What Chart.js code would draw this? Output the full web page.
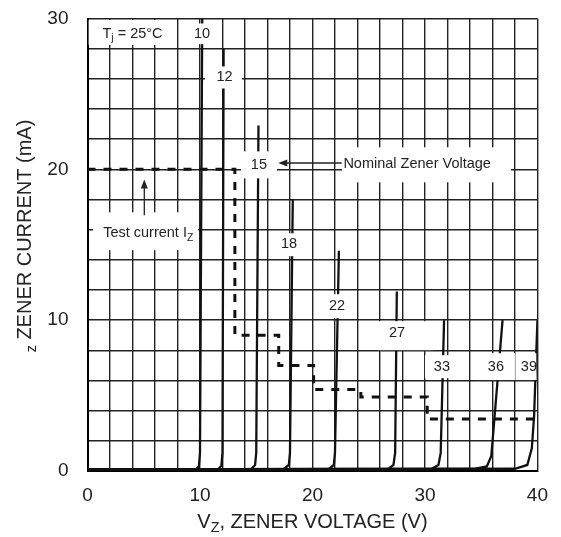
<!DOCTYPE html>
<html>
<head>
<meta charset="utf-8">
<script src="https://cdn.jsdelivr.net/npm/chart.js@4.4.1/dist/chart.umd.min.js"></script>
<style>
  body { margin: 0; background: #fff; }
  canvas { display: block; }
</style>
</head>
<body>
<canvas id="chart" width="561" height="537"></canvas>
<script>
// zener curves, [volts, mA]
var z10 = [[0, 0.1], [9.6, 0.1], [9.9, 0.3], [10.0, 1.2], [10.2, 30]];
var z12 = [[0, 0.1], [11.6, 0.1], [11.9, 0.35], [12.0, 1.2], [12.1, 28]];
var z15 = [[0, 0.1], [14.5, 0.1], [14.9, 0.4], [15.0, 1.2], [15.2, 22.9]];
var z18 = [[0, 0.1], [17.4, 0.1], [17.9, 0.4], [18.0, 1.2], [18.25, 18]];
var z22 = [[0, 0.1], [21.4, 0.1], [21.9, 0.4], [22.0, 1.2], [22.35, 14.6]];
var z27 = [[0, 0.1], [26.7, 0.1], [27.2, 0.4], [27.35, 1.2], [27.5, 11.9]];
var z33 = [[0, 0.1], [30.5, 0.1], [31.2, 0.4], [31.4, 1.2], [31.7, 10]];
var z36 = [[0, 0.1], [34.5, 0.15], [35.5, 0.3], [35.9, 1.0], [36.9, 10]];
var z39 = [[0, 0.1], [38.0, 0.15], [39.1, 0.4], [39.5, 1.5], [39.7, 3.6], [40, 10]];
var curves = [z10, z12, z15, z18, z22, z27, z33, z36, z39];

// test current staircase (dashed)
var testV = [0, 13.1, 13.1, 17.0, 17.0, 20.1, 20.1, 24.3, 24.3, 30.2, 30.2, 40];
var testI = [20, 20, 9, 9, 7, 7, 5.4, 5.4, 4.9, 4.9, 3.45, 3.45];

var xLabels = [0, 10, 20, 30, 40];
var yLabels = [0, 10, 20, 30];

var FONT = 'Liberation Sans, Arial, Helvetica, sans-serif';
var INK = '#222';

// labels in white boxes: text segments, text anchor and box [x0, x1, y0, y1] in chart units
var notes = [
  { text: [['T'], ['j', 'sub'], [' = 25°C']], x: 4.0, y: 29.0, box: [0.1, 7.85, 29.9, 28.25] },
  { text: [['10']], x: 10.18, y: 28.97, box: [9.2, 11.2, 29.67, 28.3] },
  { text: [['12']], x: 12.18, y: 26.09, box: [10.44, 13.73, 26.82, 25.36] },
  { text: [['15']], x: 15.24, y: 20.3, box: [13.64, 16.84, 21.19, 19.4] },
  { text: [['Nominal Zener Voltage']], x: 22.75, y: 20.33, box: [22.62, 37.64, 21.46, 19.14], align: 'left' },
  { text: [['Test current I'], ['Z', 'sub']], x: 5.4, y: 15.78, box: [0.49, 9.82, 17.15, 14.64] },
  { text: [['18']], x: 17.91, y: 15.08, box: [16.84, 18.89, 15.76, 14.24] },
  { text: [['22']], x: 22.18, y: 10.93, box: [20.49, 23.96, 11.72, 10.13] },
  { text: [['27']], x: 27.51, y: 9.14, box: [25.82, 30.71, 9.93, 8.01] },
  { text: [['33']], x: 31.51, y: 6.89, box: [30.0, 32.67, 7.68, 6.16] },
  { text: [['36']], x: 36.31, y: 6.89, box: [34.71, 38.0, 7.81, 6.03] },
  { text: [['39']], x: 39.24, y: 6.89, box: [38.09, 39.9, 7.81, 6.03] }
];

// arrows [fromV, fromI, toV, toI]
var arrows = [
  [22.6, 20.42, 16.96, 20.42],
  [5.05, 16.95, 5.05, 19.32]
];

function drawRich(ctx, segs, x, y, size, align) {
  var total = 0;
  segs.forEach(function(s) {
    ctx.font = (s[1] ? size * 0.72 : size) + 'px ' + FONT;
    total += ctx.measureText(s[0]).width;
  });
  var cx = align === 'left' ? x : x - total / 2;
  ctx.textAlign = 'left';
  ctx.textBaseline = 'middle';
  segs.forEach(function(s) {
    ctx.font = (s[1] ? size * 0.72 : size) + 'px ' + FONT;
    ctx.fillText(s[0], cx, s[1] ? y + size * 0.32 : y);
    cx += ctx.measureText(s[0]).width;
  });
}

var overlay = {
  id: 'overlay',
  afterDatasetsDraw: function(chart) {
    var ctx = chart.ctx, xs = chart.scales.x, ys = chart.scales.y;
    var area = chart.chartArea;
    ctx.save();
    notes.forEach(function(n) {
      var l = xs.getPixelForValue(n.box[0]), r = xs.getPixelForValue(n.box[1]);
      var t = ys.getPixelForValue(n.box[2]), b = ys.getPixelForValue(n.box[3]);
      ctx.fillStyle = '#fff';
      ctx.fillRect(l, t, r - l, b - t);
      ctx.fillStyle = INK;
      drawRich(ctx, n.text, xs.getPixelForValue(n.x), ys.getPixelForValue(n.y), 14.5, n.align);
    });

    ctx.strokeStyle = INK;
    ctx.fillStyle = INK;
    ctx.lineWidth = 1.3;
    arrows.forEach(function(a) {
      var x1 = xs.getPixelForValue(a[0]), y1 = ys.getPixelForValue(a[1]);
      var x2 = xs.getPixelForValue(a[2]), y2 = ys.getPixelForValue(a[3]);
      var ang = Math.atan2(y2 - y1, x2 - x1);
      ctx.beginPath();
      ctx.moveTo(x1, y1);
      ctx.lineTo(x2 - 6 * Math.cos(ang), y2 - 6 * Math.sin(ang));
      ctx.stroke();
      ctx.beginPath();
      ctx.moveTo(x2, y2);
      ctx.lineTo(x2 - 9 * Math.cos(ang) + 3.5 * Math.sin(ang), y2 - 9 * Math.sin(ang) - 3.5 * Math.cos(ang));
      ctx.lineTo(x2 - 9 * Math.cos(ang) - 3.5 * Math.sin(ang), y2 - 9 * Math.sin(ang) + 3.5 * Math.cos(ang));
      ctx.closePath();
      ctx.fill();
    });

    // axis titles
    ctx.fillStyle = INK;
    drawRich(ctx, [['V'], ['Z', 'sub'], [', ZENER VOLTAGE (V)']], (area.left + area.right) / 2, 522, 20, 'center');
    ctx.translate(area.left - 62, 236);
    ctx.rotate(-Math.PI / 2);
    drawRich(ctx, [['z', 'sub'], [' ZENER CURRENT (mA)']], 0, 0, 20, 'center');
    ctx.restore();
  }
};

var datasets = curves.map(function(c) {
  return {
    data: c.map(function(p) { return { x: p[0], y: p[1] }; }),
    borderColor: '#111',
    borderWidth: 2.3,
    pointRadius: 0,
    showLine: true,
    fill: false
  };
});
datasets.push({
  data: testV.map(function(v, i) { return { x: v, y: testI[i] }; }),
  borderColor: '#111',
  borderWidth: 3,
  borderDash: [8, 8],
  borderCapStyle: 'butt',
  pointRadius: 0,
  showLine: true,
  fill: false
});

var ctx = document.getElementById('chart').getContext('2d');
new Chart(ctx, {
  type: 'scatter',
  data: { datasets: datasets },
  options: {
    responsive: false,
    animation: false,
    devicePixelRatio: 1,
    layout: { padding: { left: 0, right: 23, top: 18.5, bottom: 0 } },
    plugins: { legend: { display: false }, tooltip: { enabled: false } },
    scales: {
      x: {
        type: 'linear',
        min: 0,
        max: 40,
        afterFit: function(s) { s.height = 66; },
        grid: { color: INK, lineWidth: 1.4, drawTicks: false },
        border: { color: '#000', width: 2 },
        ticks: {
          stepSize: 2,
          autoSkip: false,
          maxRotation: 0,
          padding: 13,
          color: INK,
          font: { size: 19, family: FONT },
          callback: function(v) { return xLabels.indexOf(v) >= 0 ? String(v) : ''; }
        }
      },
      y: {
        type: 'linear',
        min: 0,
        max: 30,
        afterFit: function(s) { s.width = 87.5; s.paddingTop = 0; s.paddingBottom = 0; },
        grid: { color: INK, lineWidth: 1.4, drawTicks: false },
        border: { color: '#000', width: 2 },
        ticks: {
          stepSize: 2,
          autoSkip: false,
          padding: 19,
          color: INK,
          font: { size: 19, family: FONT },
          callback: function(v) { return yLabels.indexOf(v) >= 0 ? String(v) : ''; }
        }
      }
    }
  },
  plugins: [overlay]
});
</script>
</body>
</html>
